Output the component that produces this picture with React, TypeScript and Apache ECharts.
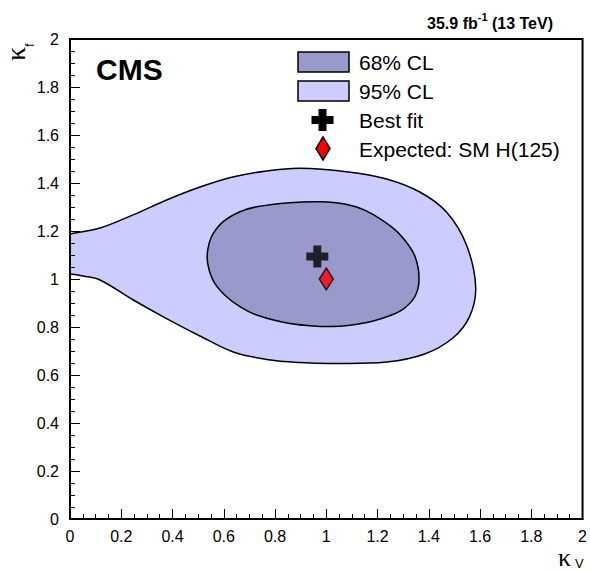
import React, { useEffect, useRef } from "react";
import * as echarts from "echarts";

// 95% CL contour (kappa_V, kappa_f), closed loop
const cl95X = [-0.1, 0, 0.117, 0.246, 0.377, 0.507, 0.635, 0.767, 0.897, 1.079, 1.235, 1.365, 1.469, 1.547, 1.583, 1.559, 1.494, 1.384, 1.235, 1.027, 0.897, 0.767, 0.637, 0.507, 0.377, 0.247, 0.117, 0.051, 0, -0.1];
const cl95Y = [1.165, 1.1875, 1.2125, 1.267, 1.329, 1.383, 1.425, 1.45, 1.461, 1.447, 1.417, 1.3625, 1.279, 1.142, 0.967, 0.843, 0.754, 0.6875, 0.654, 0.648, 0.652, 0.665, 0.696, 0.7625, 0.835, 0.9125, 0.996, 1.0125, 1.021, 1.03];

// 68% CL contour
const cl68X = [0.535, 0.543, 0.559, 0.598, 0.663, 0.728, 0.858, 0.975, 1.072, 1.158, 1.255, 1.306, 1.347, 1.362, 1.347, 1.306, 1.255, 1.158, 1.025, 0.858, 0.728, 0.663, 0.611, 0.565, 0.543];
const cl68Y = [1.093, 1.149, 1.19, 1.239, 1.28, 1.301, 1.318, 1.322, 1.3125, 1.283, 1.217, 1.1625, 1.092, 1.0, 0.929, 0.879, 0.85, 0.819, 0.802, 0.815, 0.85, 0.885, 0.926, 0.982, 1.0375];

const bestFit = [0.965, 1.094];
const expectedSM = [1.0, 1.0];

const xTickLabels = ["0", "0.2", "0.4", "0.6", "0.8", "1", "1.2", "1.4", "1.6", "1.8", "2"];
const yTickLabels = ["0", "0.2", "0.4", "0.6", "0.8", "1", "1.2", "1.4", "1.6", "1.8", "2"];

const FONT = "Liberation Sans, Arial, Helvetica, sans-serif";
const GREEK = "Liberation Serif, DejaVu Serif, serif";
const DARK = "#9999cc";
const LIGHT = "#ccccff";
const CROSS = "path://M7,0H15V7H22V15H15V22H7V15H0V7H7Z";

function contour(name: string, xs: number[], ys: number[], color: string, z: number) {
  return {
    type: "custom",
    name,
    coordinateSystem: "cartesian2d",
    clip: true,
    silent: true,
    z,
    data: xs.map((x, i) => [x, ys[i]]),
    encode: { x: 0, y: 1 },
    renderItem: (params: any, api: any) => {
      if (params.dataIndex !== 0) return null;
      const pts = xs.map((x, i) => api.coord([x, ys[i]]));
      return {
        type: "polygon",
        shape: { points: pts, smooth: 0.36 },
        style: { fill: color, stroke: "#000", lineWidth: 1.5 },
      };
    },
  };
}

function axisCommon(labels: string[], margin: number) {
  return {
    type: "value",
    min: 0,
    max: 2,
    interval: 0.2,
    z: 10,
    axisLine: { show: true, onZero: false, lineStyle: { color: "#000", width: 2 } },
    axisTick: { show: true, inside: true, length: 10, lineStyle: { color: "#000", width: 1 } },
    minorTick: { show: true, splitNumber: 4, length: 5, lineStyle: { color: "#000", width: 1 } },
    splitLine: { show: false },
    minorSplitLine: { show: false },
    axisLabel: {
      show: true,
      color: "#000",
      fontSize: 16,
      fontFamily: FONT,
      margin,
      showMinLabel: true,
      showMaxLabel: true,
      formatter: (v: number) => labels[Math.round(v / 0.2)] ?? "",
    },
  };
}

export default function App() {
  const ref = useRef<HTMLDivElement>(null);
  useEffect(() => {
    if (!ref.current) return;
    const chart = echarts.init(ref.current, undefined, { renderer: "svg" });
    const cx = 322.5;
    const cy = 120;
    const t = 4;
    const h = 11;
    chart.setOption({
      animation: false,
      backgroundColor: "#fff",
      grid: { left: 70, top: 39, right: 7, bottom: 53, show: true, borderColor: "#000", borderWidth: 2, backgroundColor: "transparent" },
      xAxis: axisCommon(xTickLabels, 9),
      yAxis: axisCommon(yTickLabels, 11),
      series: [
        contour("95% CL", cl95X, cl95Y, LIGHT, 2),
        contour("68% CL", cl68X, cl68Y, DARK, 3),
        {
          type: "scatter",
          name: "Best fit",
          silent: true,
          z: 5,
          data: [bestFit],
          symbol: CROSS,
          symbolSize: 22,
          itemStyle: { color: "#000" },
        },
        {
          type: "scatter",
          name: "Expected: SM H(125)",
          silent: true,
          z: 6,
          data: [expectedSM],
          symbol: "diamond",
          symbolSize: [14, 22],
          itemStyle: { color: "#ff0000", borderColor: "#000", borderWidth: 1.5 },
        },
      ],
      graphic: [
        {
          type: "text",
          x: 553,
          y: 21,
          style: {
            text: "{a|35.9 fb}{s|-1}{a| (13 TeV)}",
            align: "right",
            verticalAlign: "middle",
            fill: "#000",
            rich: {
              a: { fontSize: 16, fontWeight: "bold", fontFamily: FONT, verticalAlign: "bottom", lineHeight: 20, fill: "#000" },
              s: { fontSize: 11, fontWeight: "bold", fontFamily: FONT, verticalAlign: "top", lineHeight: 12, fill: "#000" },
            },
          },
        },
        {
          type: "text",
          x: 96,
          y: 69,
          style: { text: "CMS", fontSize: 30, fontWeight: "bold", fontFamily: FONT, fill: "#000", align: "left", verticalAlign: "middle" },
        },
        { type: "rect", shape: { x: 298, y: 52, width: 51, height: 20 }, style: { fill: DARK, stroke: "#000", lineWidth: 1.5 } },
        { type: "rect", shape: { x: 298, y: 81, width: 51, height: 20 }, style: { fill: LIGHT, stroke: "#000", lineWidth: 1.5 } },
        {
          type: "polygon",
          shape: {
            points: [
              [cx - t, cy - h], [cx + t, cy - h], [cx + t, cy - t], [cx + h, cy - t], [cx + h, cy + t], [cx + t, cy + t],
              [cx + t, cy + h], [cx - t, cy + h], [cx - t, cy + t], [cx - h, cy + t], [cx - h, cy - t], [cx - t, cy - t],
            ],
          },
          style: { fill: "#000" },
        },
        {
          type: "polygon",
          shape: { points: [[323, 137], [330, 148.5], [323, 160], [316, 148.5]] },
          style: { fill: "#ff0000", stroke: "#000", lineWidth: 1.5 },
        },
        { type: "text", x: 359, y: 62, style: { text: "68% CL", fontSize: 21, fontFamily: FONT, fill: "#000", verticalAlign: "middle" } },
        { type: "text", x: 359, y: 91, style: { text: "95% CL", fontSize: 21, fontFamily: FONT, fill: "#000", verticalAlign: "middle" } },
        { type: "text", x: 359, y: 120, style: { text: "Best fit", fontSize: 21, fontFamily: FONT, fill: "#000", verticalAlign: "middle" } },
        { type: "text", x: 359, y: 149, style: { text: "Expected: SM H(125)", fontSize: 21, fontFamily: FONT, fill: "#000", verticalAlign: "middle" } },
        // y axis name: kappa_f (rotated)
        { type: "text", x: 15, y: 61, rotation: Math.PI / 2, style: { text: "κ", fontSize: 28, fontFamily: GREEK, fill: "#000", align: "left", verticalAlign: "middle" } },
        { type: "text", x: 29, y: 47, rotation: Math.PI / 2, style: { text: "f", fontSize: 13, fontFamily: FONT, fill: "#000", align: "left", verticalAlign: "middle" } },
        // x axis name: kappa_V
        { type: "text", x: 558, y: 557, style: { text: "κ", fontSize: 26, fontFamily: GREEK, fill: "#000", align: "left", verticalAlign: "middle" } },
        { type: "text", x: 575, y: 563, style: { text: "V", fontSize: 13, fontFamily: FONT, fill: "#000", align: "left", verticalAlign: "middle" } },
      ],
    });
    return () => chart.dispose();
  }, []);
  return <div ref={ref} style={{ position: "absolute", left: 0, top: 0, width: 590, height: 572 }} />;
}
